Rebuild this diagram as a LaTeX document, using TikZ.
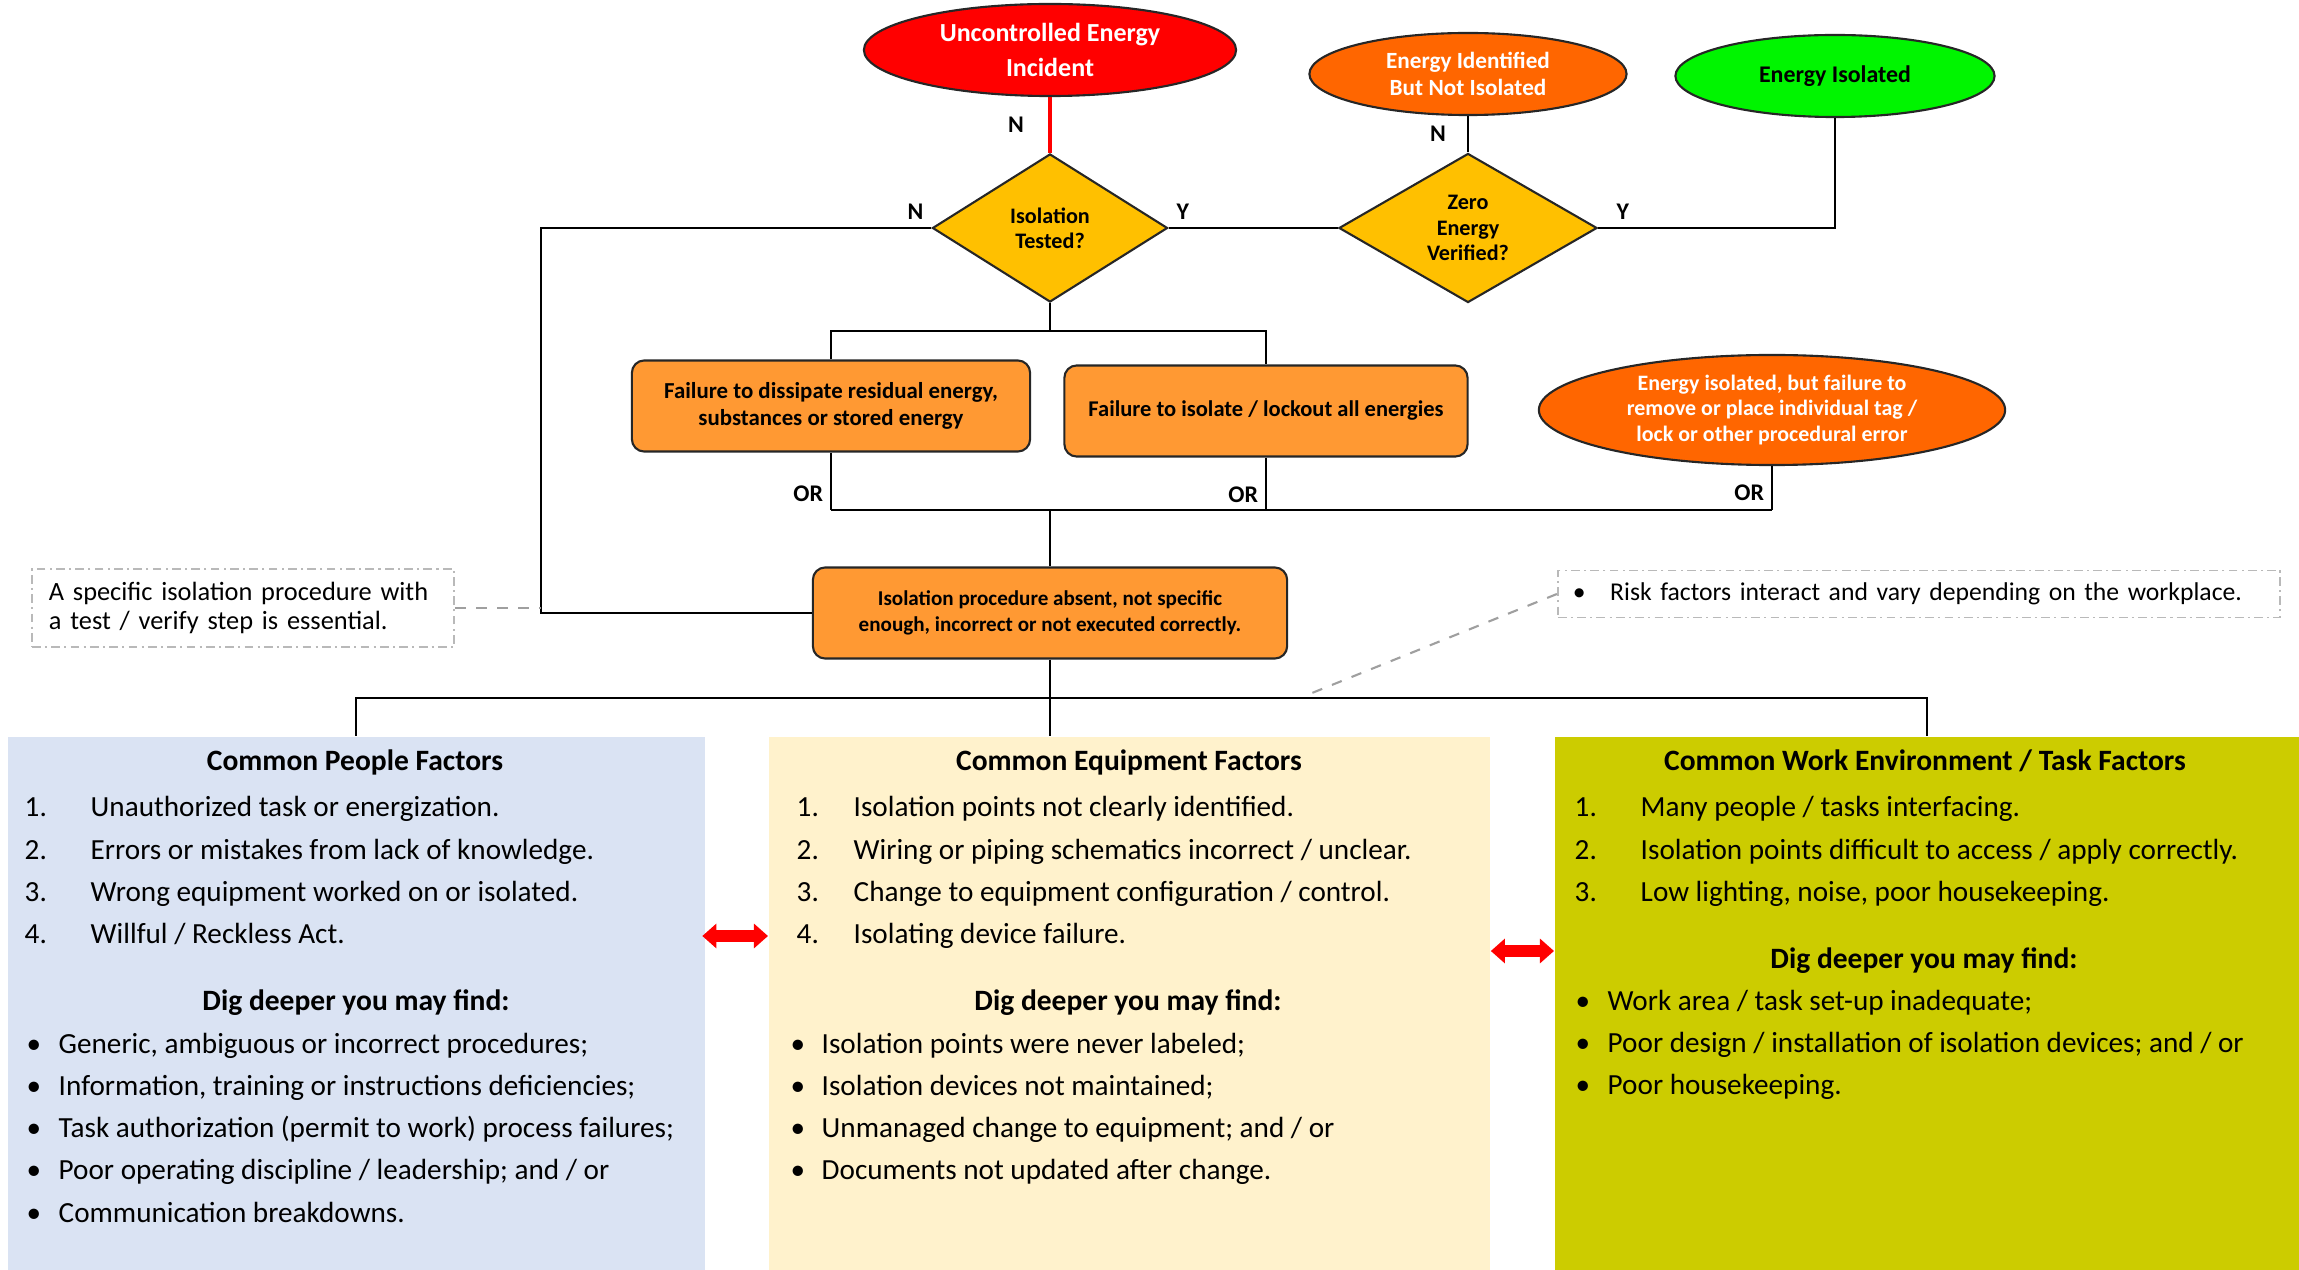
\documentclass[tikz,border=0pt]{standalone}
\usepackage{fontspec}
\setmainfont{Carlito}
\usepackage{tikz}
\usetikzlibrary{
  shapes.geometric,
  arrows.meta
}
\definecolor{isoRed}{RGB}{255,0,0}
\definecolor{isoOrange}{RGB}{255,102,0}
\definecolor{isoGreen}{RGB}{0,245,0}
\definecolor{isoGold}{RGB}{255,192,0}
\definecolor{isoBox}{RGB}{255,153,51}
\definecolor{isoLightBlue}{RGB}{218,227,243}
\definecolor{isoLightCream}{RGB}{255,242,204}
\definecolor{isoOlive}{RGB}{204,204,0}

\begin{document}
\begin{tikzpicture}[
  x=0.01cm, y=-0.01cm,
  font=\fontsize{8.3}{12.03}\selectfont,
  flow/.style={draw=black, line width=0.55pt},
  yn/.style={text=black, font=\bfseries\fontsize{6.8}{8}\selectfont, inner sep=2pt},
  oval/.style={
    ellipse,
    draw=black!85,
    line width=0.6pt,
    inner sep=0pt,
    align=center,
    text=white,
    font=\bfseries\fontsize{6.6}{7.7}\selectfont
  },
  decision/.style={
    diamond,
    draw=black!85,
    fill=isoGold,
    line width=0.6pt,
    inner sep=0pt,
    align=center,
    font=\bfseries\fontsize{6.3}{7.2}\selectfont
  },
  block/.style={
    rounded corners=3.5pt,
    draw=black!85,
    fill=isoBox,
    line width=0.6pt,
    inner sep=0pt,
    minimum height=0.91cm,
    align=center,
    font=\bfseries\fontsize{6.4}{7.4}\selectfont
  },
  panel/.style={anchor=north west, inner sep=0pt, minimum height=5.34cm},
  head/.style={anchor=base, inner sep=0pt, font=\bfseries\fontsize{8.4}{10}\selectfont},
  items/.style={anchor=base west, inner sep=0pt},
  note/.style={
    draw=gray!55,
    line width=0.5pt,
    dash pattern=on 2.5pt off 1.2pt on 0.6pt off 1.2pt,
    align=left,
    font=\fontsize{7.5}{8.5}\selectfont
  },
  link/.style={gray!75, line width=0.6pt, dashed},
  both/.style={isoRed, line width=3.2pt,
    {Triangle[length=4pt,width=6.8pt]}-{Triangle[length=4pt,width=6.8pt]}}
]
\useasboundingbox (0,0) rectangle (2299,1270);

% top row
\node[oval, fill=isoRed, minimum width=3.72cm, minimum height=0.92cm,
  font=\bfseries\fontsize{7.4}{10}\selectfont] (incident) at (1050,50)
  {Uncontrolled Energy\\Incident};
\node[oval, fill=isoOrange, minimum width=3.17cm, minimum height=0.82cm] (identified) at (1468,74)
  {Energy Identified\\But Not Isolated};
\node[oval, fill=isoGreen, text=black, minimum width=3.19cm, minimum height=0.82cm,
  font=\bfseries\fontsize{6.8}{7.7}\selectfont] (isolated) at (1835,76)
  {Energy Isolated};

\node[decision, minimum width=2.35cm, minimum height=1.48cm] (tested) at (1050,228)
  {Isolation\\Tested?};
\node[decision, minimum width=2.58cm, minimum height=1.49cm] (zero) at (1468,228)
  {Zero\\Energy\\Verified?};

% failure modes
\node[block, minimum width=3.98cm, font=\bfseries\fontsize{6.5}{7.5}\selectfont] (dissipate) at (831,406)
  {Failure to dissipate residual energy,\\substances or stored energy};
\node[block, minimum width=4.03cm] (lockout) at (1266,411)
  {Failure to isolate / lockout all energies};
\node[oval, fill=isoOrange, minimum width=4.66cm, minimum height=1.1cm,
  font=\bfseries\fontsize{6.25}{7.3}\selectfont] (tagerror) at (1772,410)
  {Energy isolated, but failure to\\remove or place individual tag /\\lock or other procedural error};
\node[block, minimum width=4.74cm, font=\bfseries\fontsize{6}{7.4}\selectfont] (procedure) at (1050,613)
  {Isolation procedure absent, not specific\\enough, incorrect or not executed correctly.};

% notes
\node[note, text width=3.88cm, inner xsep=0.17cm, minimum height=0.78cm] (safenote) at (243,608)
  {A specific isolation procedure with\\a test / verify step is essential.};
\node[note, text width=6.92cm, inner xsep=0.15cm, minimum height=0.47cm,
  font=\fontsize{7.3}{8.5}\selectfont] (risknote) at (1919,594)
  {\mbox{\textbullet\hspace{7pt}Risk factors interact and vary depending on the workplace.}};

% factor panels
\node[panel, fill=isoLightBlue, minimum width=6.97cm] (people) at (7,736) {};
\node[panel, fill=isoLightCream, minimum width=7.21cm] (equip) at (768,736) {};
\node[panel, fill=isoOlive, minimum width=7.45cm] (worktask) at (1554,736) {};

\node[head] (peopleHead) at (355,771) {Common People Factors};
\node[items] (peopleList) at (24,817) {\begin{tabular}[t]{@{}l@{}}
  \makebox[0.66cm][l]{1.}Unauthorized task or energization.\\
  \makebox[0.66cm][l]{2.}Errors or mistakes from lack of knowledge.\\
  \makebox[0.66cm][l]{3.}Wrong equipment worked on or isolated.\\
  \makebox[0.66cm][l]{4.}Willful / Reckless Act.
\end{tabular}};
\node[head] (peopleDig) at (356,1010) {Dig deeper you may find:};
\node[items] (peopleMore) at (26,1053) {\begin{tabular}[t]{@{}l@{}}
  \makebox[0.32cm][l]{\textbullet}Generic, ambiguous or incorrect procedures;\\
  \makebox[0.32cm][l]{\textbullet}Information, training or instructions deficiencies;\\
  \makebox[0.32cm][l]{\textbullet}Task authorization (permit to work) process failures;\\
  \makebox[0.32cm][l]{\textbullet}Poor operating discipline / leadership; and / or\\
  \makebox[0.32cm][l]{\textbullet}Communication breakdowns.
\end{tabular}};

\node[head] (equipHead) at (1129,771) {Common Equipment Factors};
\node[items] (equipList) at (796,817) {\begin{tabular}[t]{@{}l@{}}
  \makebox[0.57cm][l]{1.}Isolation points not clearly identified.\\
  \makebox[0.57cm][l]{2.}Wiring or piping schematics incorrect / unclear.\\
  \makebox[0.57cm][l]{3.}Change to equipment configuration / control.\\
  \makebox[0.57cm][l]{4.}Isolating device failure.
\end{tabular}};
\node[head] (equipDig) at (1128,1010) {Dig deeper you may find:};
\node[items] (equipMore) at (790,1053) {\begin{tabular}[t]{@{}l@{}}
  \makebox[0.31cm][l]{\textbullet}Isolation points were never labeled;\\
  \makebox[0.31cm][l]{\textbullet}Isolation devices not maintained;\\
  \makebox[0.31cm][l]{\textbullet}Unmanaged change to equipment; and / or\\
  \makebox[0.31cm][l]{\textbullet}Documents not updated after change.
\end{tabular}};

\node[head] (workHead) at (1925,771) {Common Work Environment / Task Factors};
\node[items] (workList) at (1574,817) {\begin{tabular}[t]{@{}l@{}}
  \makebox[0.66cm][l]{1.}Many people / tasks interfacing.\\
  \makebox[0.66cm][l]{2.}Isolation points difficult to access / apply correctly.\\
  \makebox[0.66cm][l]{3.}Low lighting, noise, poor housekeeping.
\end{tabular}};
\node[head] (workDig) at (1924,968) {Dig deeper you may find:};
\node[items] (workMore) at (1575,1010) {\begin{tabular}[t]{@{}l@{}}
  \makebox[0.32cm][l]{\textbullet}Work area / task set-up inadequate;\\
  \makebox[0.32cm][l]{\textbullet}Poor design / installation of isolation devices; and / or\\
  \makebox[0.32cm][l]{\textbullet}Poor housekeeping.
\end{tabular}};

% connectors
\coordinate (leftbend) at (541,228);
\coordinate (split) at (1050,331);
\coordinate (orbus) at (1050,510);
\coordinate (fanout) at (1050,698);
\coordinate (risktip) at (1312,693);

\draw[isoRed, line width=0.9pt] (incident) -- node[yn, left=5pt]{N} (tested);
\draw[flow] (identified) -- node[yn, left=4pt]{N} (zero);
\draw[flow] (tested) -- node[yn, pos=0, above right]{Y} (zero);
\draw[flow] (zero.east) -| node[yn, pos=0, above right, xshift=3pt]{Y} (isolated.south);
\draw[flow] (tested.west) -- node[yn, pos=0, above left]{N} (leftbend) |- (procedure.west);

\draw[flow] (tested.south) -- (split);
\draw[flow] (dissipate.north) |- (split) -| (lockout.north);
\draw[flow] (dissipate.south) -- node[yn, left, pos=0.72]{OR} (dissipate.south |- orbus);
\draw[flow] (lockout.south) -- node[yn, left, pos=0.7]{OR} (lockout.south |- orbus);
\draw[flow] (tagerror.south) -- node[yn, left, pos=0.6]{OR} (tagerror.south |- orbus);
\draw[flow] (dissipate.south |- orbus) -- (tagerror.south |- orbus);
\draw[flow] (orbus) -- (procedure.north);

\draw[flow] (procedure.south) -- (fanout);
\draw[flow] (people.north) |- (fanout) -| (worktask.north);
\draw[flow] (fanout) -- (fanout |- equip.north);

\draw[link] (safenote.east) -- (safenote.east -| leftbend);
\draw[link] (risknote.west) -- (risktip);

\draw[both] ([xshift=-1pt]people.east |- 0,936) -- (equip.west |- 0,936);
\draw[both] (equip.east |- 0,951) -- (worktask.west |- 0,951);

\end{tikzpicture}
\end{document}
